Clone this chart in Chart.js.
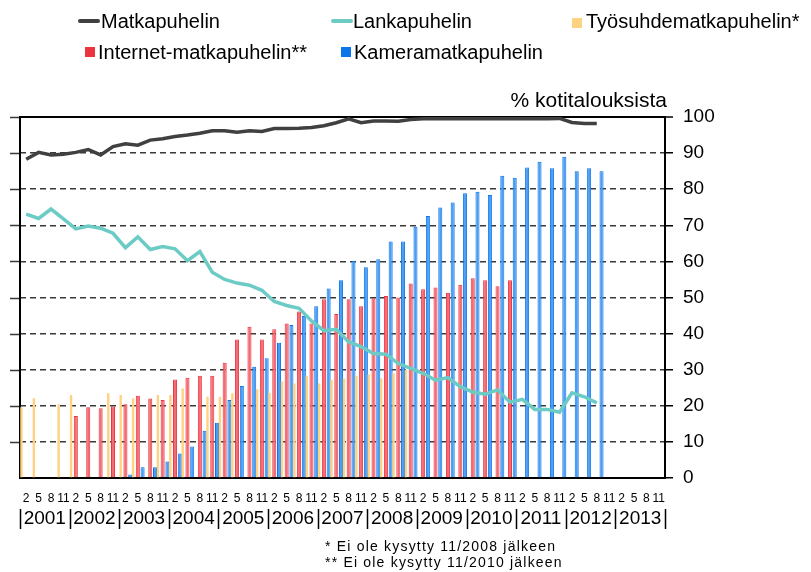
<!DOCTYPE html>
<html>
<head>
<meta charset="utf-8">
<title>Matkapuhelin kotitalouksissa</title>
<script src="https://cdn.jsdelivr.net/npm/chart.js@4.4.0/dist/chart.umd.min.js"></script>
<style>
  body { margin: 0; background: #fff; font-family: "Liberation Sans", Arial, sans-serif; }
  #wrap { position: relative; width: 811px; height: 572px; overflow: hidden; }
  #wrap canvas { position: absolute; left: 0; top: 0; }
  .lg { position: absolute; font-size: 20px; line-height: 24px; white-space: nowrap; color: #000; }
  .sym { position: absolute; }
  #unit { position: absolute; right: 144px; top: 88px; font-size: 21px; line-height: 24px; }
  .note { position: absolute; left: 325px; font-size: 14px; line-height: 18px; letter-spacing: 1.2px; }
</style>
</head>
<body>
<div id="wrap">
  <canvas id="myChart" width="811" height="572"></canvas>
  <div id="unit">% kotitalouksista</div>
  <div class="note" style="top:537px">* Ei ole kysytty 11/2008 jälkeen</div>
  <div class="note" style="top:553px">** Ei ole kysytty 11/2010 jälkeen</div>
</div>
<script>
// x axis: survey months 2, 5, 8, 11 for every year
const months = ['2', '5', '8', '11'];
const years = ['2001', '2002', '2003', '2004', '2005', '2006', '2007',
               '2008', '2009', '2010', '2011', '2012', '2013'];
const quarterLabels = [];
years.forEach(function () { months.forEach(function (m) { quarterLabels.push(m); }); });

// % of households, one value per survey (2/2001 ... 11/2013)
const matkapuhelin = [
  88.3, 90.2, 89.5, 89.7, 90.2, 91.0, 89.5, 91.8, 92.6, 92.2,
  93.6, 94.0, 94.6, 95.0, 95.5, 96.2, 96.2, 95.8, 96.2, 96.0,
  96.8, 96.8, 96.9, 97.1, 97.6, 98.4, 99.5, 98.4, 98.9, 98.9,
  98.8, 99.3, 99.5, 99.5, 99.5, 99.5, 99.5, 99.5, 99.5, 99.5,
  99.5, 99.5, 99.5, 99.6, 98.5, 98.2, 98.2, null, null, null, null, null
];
const lankapuhelin = [
  73.1, 71.9, 74.5, 71.8, 69.0, 69.8, 69.2, 67.8, 63.8, 66.8,
  63.3, 64.1, 63.5, 60.2, 62.7, 57.0, 55.0, 54.0, 53.4, 52.0,
  48.9, 47.8, 47.0, 43.5, 40.8, 41.2, 37.7, 36.4, 34.5, 34.3,
  31.7, 30.4, 29.0, 27.1, 27.8, 25.3, 23.8, 23.2, 24.4, 21.0,
  21.8, 19.0, 19.0, 18.2, 23.6, 22.5, 20.8, null, null, null, null, null
];
const tyosuhde = [
  19.6, 22.1, null, 20.4, 23.0, null, null, 23.5, 23.0, 22.1,
  null, 23.0, 23.0, 24.8, null, 22.5, 22.5, 23.5, null, 24.6,
  23.6, 26.8, 26.2, 28.3, 26.2, 27.2, 27.6, 28.3, 28.7, 27.6,
  29.0, 30.0, null, null, null, null, null, null, null, null,
  null, null, null, null, null, null, null, null, null, null, null, null
];
const internet = [
  null, null, null, null, 17.2, 19.6, 19.3, 19.8, 20.4, 22.8,
  22.0, 21.6, 27.3, 27.8, 28.3, 28.3, 31.9, 38.4, 41.9, 38.4,
  41.2, 42.8, 46.1, 42.8, 49.5, 45.4, 49.5, 47.6, 49.8, 50.4,
  50.0, 53.9, 52.3, 52.8, 51.3, 53.5, 55.3, 54.8, 53.1, 54.8,
  null, null, null, null, null, null, null, null, null, null, null, null
];
const kamera = [
  null, null, null, null, null, null, null, null, 1.0, 3.0,
  3.0, 4.6, 6.8, 8.7, 13.1, 15.3, 21.6, 25.5, 30.8, 33.2,
  37.5, 42.4, 44.9, 47.6, 52.5, 54.8, 60.2, 58.4, 60.6, 65.5,
  65.5, 69.6, 72.6, 74.9, 76.3, 78.9, 79.3, 78.4, 83.7, 83.2,
  86.0, 87.6, 85.8, 89.0, 85.0, 85.8, 85.0, null, null, null, null, null
];
const yTicks = [0, 100, 10]; // min, max, step

// year separators "|" under the month labels, and the short grid stubs left of the axis
const axisExtras = {
  id: 'axisExtras',
  afterDraw: function (chart) {
    const c = chart.ctx;
    const s = chart.scales.x2;
    const y = chart.scales.y;
    const step = s.width / years.length;
    c.save();
    c.strokeStyle = '#000';
    c.lineWidth = 1.5;
    c.beginPath();
    for (let k = 0; k <= years.length; k++) {
      const px = Math.round(s.left + k * step) + 0.5;
      c.moveTo(px, s.top + 7);
      c.lineTo(px, s.top + 27);
    }
    c.stroke();
    c.strokeStyle = '#3a3a3a';
    c.beginPath();
    y.ticks.forEach(function (t) {
      if (t.value === 0) return;
      const py = Math.round(y.getPixelForValue(t.value)) + 0.5;
      c.moveTo(chart.chartArea.left - 10, py);
      c.lineTo(chart.chartArea.left - 1, py);
    });
    c.stroke();
    c.restore();
  }
};

Chart.defaults.font.family = '"Liberation Sans", Arial, sans-serif';
Chart.defaults.color = '#000';

var ctx = document.getElementById('myChart').getContext('2d');
var chart = new Chart(ctx, {
  type: 'bar',
  data: {
    labels: quarterLabels,
    datasets: [
      { type: 'line', label: 'Matkapuhelin', data: matkapuhelin, borderColor: '#404040',
        backgroundColor: '#404040', borderWidth: 3.5, pointRadius: 0, tension: 0, fill: false, order: 1 },
      { type: 'line', label: 'Lankapuhelin', data: lankapuhelin, borderColor: '#6ccbc5',
        backgroundColor: '#6ccbc5', borderWidth: 3.5, pointRadius: 0, tension: 0, fill: false, order: 1 },
      { label: 'Työsuhdematkapuhelin*', data: tyosuhde, backgroundColor: '#ffd282',
        borderColor: '#ffc868', borderWidth: 0, barPercentage: 0.5, categoryPercentage: 1.15, order: 2 },
      { label: 'Internet-matkapuhelin**', data: internet, backgroundColor: '#f36a72',
        borderColor: '#ec3440', borderWidth: 1, barPercentage: 0.85, categoryPercentage: 1.15, order: 2 },
      { label: 'Kameramatkapuhelin', data: kamera, backgroundColor: '#4a9df2',
        borderColor: '#0a76ea', borderWidth: 1, barPercentage: 0.85, categoryPercentage: 1.15, order: 2 }
    ]
  },
  options: {
    responsive: false,
    animation: false,
    devicePixelRatio: 1,
    layout: { padding: { left: 10, top: 117, right: 0, bottom: 42 } },
    plugins: { legend: { display: false }, tooltip: { enabled: false } },
    scales: {
      x: {
        offset: true,
        weight: 0,
        grid: { display: false, drawTicks: false },
        border: { display: true, color: '#000', width: 2 },
        ticks: { font: { size: 12 }, padding: 13, autoSkip: false, maxRotation: 0, minRotation: 0 },
        afterFit: function (s) { s.height = 24; }
      },
      x2: {
        type: 'category',
        labels: years,
        position: 'bottom',
        offset: true,
        weight: 1,
        grid: { display: false, drawTicks: false },
        border: { display: false },
        ticks: { font: { size: 19 }, padding: 5, autoSkip: false, maxRotation: 0, minRotation: 0 },
        afterFit: function (s) { s.height = 28; }
      },
      y: {
        position: 'right',
        min: yTicks[0], max: yTicks[1],
        ticks: { stepSize: yTicks[2], font: { size: 19 }, padding: 10 },
        grid: {
          color: function (c) { return c.tick && c.tick.value === 100 ? '#000' : '#3a3a3a'; },
          lineWidth: function (c) { return c.tick && c.tick.value === 100 ? 2 : 1.5; },
          drawTicks: true, tickLength: 8, tickColor: '#000', tickWidth: 1.5
        },
        border: {
          display: true, color: '#000', width: 2,
          dash: function (c) { return c.tick && c.tick.value === 100 ? [] : [6, 4]; }
        },
        afterFit: function (s) { s.width = 146; }
      },
      y2: {
        position: 'left',
        min: yTicks[0], max: yTicks[1],
        ticks: { display: false, stepSize: yTicks[2] },
        grid: { display: false },
        border: { display: true, color: '#000', width: 2 },
        afterFit: function (s) { s.width = 10; }
      }
    }
  },
  plugins: [axisExtras]
});

// legend laid out in the same three columns as the original
const legendSpots = [
  { sx: 78, sy: 19, text: 101, top: 9 },
  { sx: 331, sy: 19, text: 353, top: 9 },
  { sx: 572, sy: 18, text: 586, top: 9 },
  { sx: 85, sy: 47, text: 98, top: 40 },
  { sx: 341, sy: 47, text: 354, top: 40 }
];
const wrap = document.getElementById('wrap');
chart.data.datasets.forEach(function (ds, i) {
  const spot = legendSpots[i];
  const sym = document.createElement('div');
  sym.className = 'sym';
  sym.style.left = spot.sx + 'px';
  sym.style.top = spot.sy + 'px';
  if (ds.type === 'line') {
    sym.style.width = '22px';
    sym.style.height = '4px';
    sym.style.borderRadius = '2px';
    sym.style.background = ds.borderColor;
  } else {
    sym.style.width = '10px';
    sym.style.height = '10px';
    sym.style.background = ds.borderWidth ? ds.borderColor : ds.backgroundColor;
  }
  wrap.appendChild(sym);
  const txt = document.createElement('div');
  txt.className = 'lg';
  txt.style.left = spot.text + 'px';
  txt.style.top = spot.top + 'px';
  txt.textContent = ds.label;
  wrap.appendChild(txt);
});
</script>
</body>
</html>
